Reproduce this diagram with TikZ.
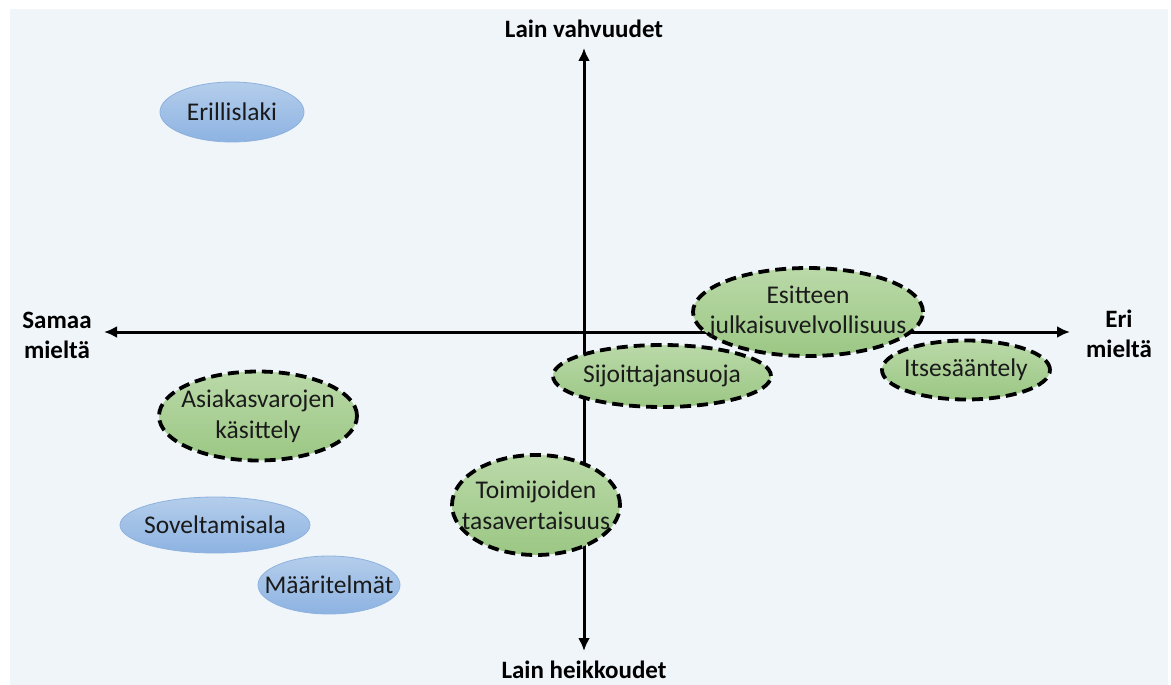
\documentclass[tikz,border=0pt]{standalone}
\usepackage{fontspec}
\setmainfont{Carlito}
\usetikzlibrary{shapes.geometric,arrows.meta}
\definecolor{panel}{HTML}{F0F5FA}
\definecolor{bluetop}{HTML}{B4CDEB}
\definecolor{bluebot}{HTML}{8DB3E2}
\definecolor{blueline}{HTML}{8EB2DE}
\definecolor{greentop}{HTML}{BAD9A8}
\definecolor{greenbot}{HTML}{9BC784}
\definecolor{txt}{HTML}{1A1A1A}
\tikzset{
  x=1pt, y=-1pt,
  blueell/.style={ellipse, inner sep=0pt, draw=blueline, line width=0.8pt, top color=bluetop, bottom color=bluebot},
  greenell/.style={ellipse, inner sep=0pt, draw=black, line width=3.8pt, dash pattern=on 11pt off 6pt, top color=greentop, bottom color=greenbot},
  elltext/.style={font=\fontsize{25.5}{30.5}\selectfont, text=txt, align=center, inner sep=0pt},
  axislabel/.style={font=\fontsize{25}{30}\selectfont\bfseries, text=black, align=center, inner sep=0pt},
  axisline/.style={line width=3pt, draw=black, {Latex[length=13pt,width=12pt]}-{Latex[length=13pt,width=12pt]}}
}
\begin{document}
\begin{tikzpicture}
\useasboundingbox (0,0) rectangle (1171,685);
\fill[white] (0,0) rectangle (1171,685);
\fill[panel] (10,9) rectangle (1168,685);

% axes
\coordinate (top) at (584,48);
\coordinate (bot) at (584,651);
\coordinate (left) at (104,332);
\coordinate (right) at (1070,332);
\draw[axisline] (bot) -- (top);
\draw[axisline] (left) -- (right);

% axis labels
\node[axislabel] (lv) at (584,29) {Lain vahvuudet};
\node[axislabel] (lh) at (584,670) {Lain heikkoudet};
\node[axislabel] (sm) at (57,335) {Samaa\\mieltä};
\node[axislabel] (em) at (1119,334) {Eri\\mieltä};

% blue ellipses
\node[blueell, minimum width=144pt, minimum height=60pt] (e1) at (232,112) {};
\node[elltext] (t1) at (e1.center) {Erillislaki};
\node[blueell, minimum width=190pt, minimum height=56pt] (e2) at (215,525) {};
\node[elltext] (t2) at (e2.center) {Soveltamisala};
\node[blueell, minimum width=142pt, minimum height=58pt] (e3) at (329,585) {};
\node[elltext] (t3) at (e3.center) {Määritelmät};

% green ellipses
\node[greenell, minimum width=198pt, minimum height=89pt] (g1) at (258,416) {};
\node[elltext] (u1) at (g1.center) {Asiakasvarojen\\käsittely};
\node[greenell, minimum width=168pt, minimum height=100pt] (g2) at (536,505) {};
\node[elltext] (u2) at (g2.center) {Toimijoiden\\tasavertaisuus};
\node[greenell, minimum width=230pt, minimum height=88pt] (g4) at (808,312) {};
\node[elltext] (u4) at (g4.center) {Esitteen\\julkaisuvelvollisuus};
\node[greenell, minimum width=218pt, minimum height=62pt] (g3) at (662,376) {};
\node[elltext] (u3) at (g3.center) {Sijoittajansuoja};
\node[greenell, minimum width=168pt, minimum height=59pt] (g5) at (966,370) {};
\node[elltext] (u5) at (g5.center) {Itsesääntely};
\end{tikzpicture}
\end{document}
